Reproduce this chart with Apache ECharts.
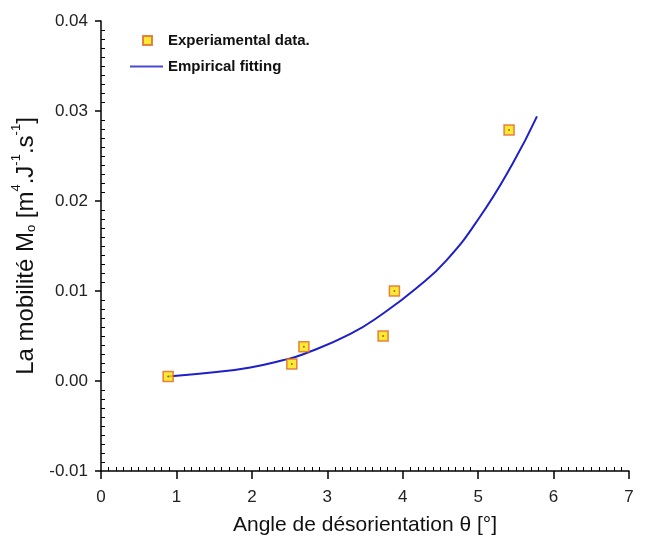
<!DOCTYPE html>
<html>
<head>
<meta charset="utf-8">
<script src="https://cdn.jsdelivr.net/npm/echarts@6/dist/echarts.min.js"></script>
<style>
  html, body { margin: 0; padding: 0; background: #fff; }
  #chart { width: 647px; height: 539px; }
</style>
</head>
<body>
<div id="chart"></div>
<script>
// Measured mobility vs. misorientation angle
const expAngle = [0.89, 2.53, 2.69, 3.74, 3.89, 5.41];
const expMobility = [0.0005, 0.0019, 0.0038, 0.0050, 0.0100, 0.0279];

// Points along the empirical (exponential) fit curve
const fitAngle = [0.89, 1.53, 1.98, 2.41, 2.69, 3.30, 3.74, 4.18, 4.58, 5.02, 5.46, 5.78];
const fitMobility = [0.0005, 0.0010, 0.0015, 0.0023, 0.0030, 0.0052, 0.0075, 0.0103, 0.0134, 0.0182, 0.0242, 0.0294];

// Axis ranges
const xRange = [0, 7];
const yRange = [-0.01, 0.04];
const xStep = 1;
const yStep = 0.01;

const expName = 'Experiamental data.';
const fitName = 'Empirical fitting';

const FONT = 'Liberation Sans, Arial, sans-serif';

const chart = echarts.init(document.getElementById('chart'), null, { renderer: 'canvas' });

const expData = expAngle.map((x, i) => [x, expMobility[i]]);
const fitData = fitAngle.map((x, i) => [x, fitMobility[i]]);

const axisLabelStyle = { color: '#222', fontSize: 17, fontFamily: FONT };
const legendText = { fontFamily: FONT, fontWeight: 'bold', fontSize: 15, color: '#111' };

// Secondary axes only carry the inward-pointing minor ticks
function minorAxis(range, step, pos) {
  return {
    type: 'value',
    position: pos,
    min: range[0], max: range[1], interval: step,
    axisLine: { show: false, onZero: false },
    axisTick: { show: false, inside: true },
    axisLabel: { show: false },
    minorTick: { show: true, splitNumber: 10, length: 4, lineStyle: { color: '#000', width: 1 } },
    splitLine: { show: false }
  };
}

const option = {
  backgroundColor: '#fff',
  animation: false,
  grid: { left: 101, right: 18, top: 21, bottom: 68, containLabel: false, outerBoundsMode: 'none' },
  legend: [
    {
      left: 142,
      top: 33,
      padding: 0,
      itemWidth: 9,
      itemHeight: 9,
      textStyle: Object.assign({ padding: [0, 0, 0, 11] }, legendText),
      data: [{ name: expName, icon: 'rect' }]
    },
    {
      left: 130,
      top: 59,
      padding: 0,
      itemWidth: 33,
      itemHeight: 2,
      textStyle: legendText,
      itemStyle: { color: '#4a4ad0' },
      data: [{ name: fitName, icon: 'rect' }]
    }
  ],
  xAxis: [
    {
      type: 'value',
      position: 'bottom',
      min: xRange[0], max: xRange[1], interval: xStep,
      name: 'Angle de désorientation θ [°]',
      nameLocation: 'middle',
      nameGap: 44,
      nameTextStyle: { fontFamily: FONT, fontSize: 21, color: '#111' },
      axisLine: { show: true, onZero: false, lineStyle: { color: '#000', width: 1.5 } },
      axisTick: { show: true, length: 8, lineStyle: { color: '#000', width: 1.5 } },
      axisLabel: Object.assign({ margin: 18 }, axisLabelStyle),
      splitLine: { show: false }
    },
    minorAxis(xRange, xStep, 'bottom')
  ],
  yAxis: [
    {
      type: 'value',
      position: 'left',
      min: yRange[0], max: yRange[1], interval: yStep,
      name: '{n|La mobilité M}{sub|o}{n| [m}{sup|4}{n|.J}{sup|-1}{n|.s}{sup|-1}{n|]}',
      nameLocation: 'middle',
      nameGap: 60,
      nameTextStyle: {
        fontFamily: FONT, color: '#111',
        rich: {
          n: { fontFamily: FONT, fontSize: 24, color: '#111', lineHeight: 28, verticalAlign: 'bottom' },
          sup: { fontFamily: FONT, fontSize: 13, color: '#111', lineHeight: 28, verticalAlign: 'top' },
          sub: { fontFamily: FONT, fontSize: 13, color: '#111', lineHeight: 24, verticalAlign: 'bottom' }
        }
      },
      axisLine: { show: true, onZero: false, lineStyle: { color: '#000', width: 1.5 } },
      axisTick: { show: true, length: 6, lineStyle: { color: '#000', width: 1.5 } },
      axisLabel: Object.assign({ margin: 13, formatter: v => v.toFixed(2) }, axisLabelStyle),
      splitLine: { show: false }
    },
    minorAxis(yRange, yStep, 'left')
  ],
  series: [
    {
      name: fitName,
      type: 'line',
      data: fitData,
      smooth: 0.5,
      showSymbol: false,
      symbol: 'none',
      lineStyle: { color: '#1f1fc8', width: 2 },
      itemStyle: { color: '#3b3bc8' },
      z: 2
    },
    {
      name: expName,
      type: 'scatter',
      data: expData,
      symbol: 'rect',
      symbolSize: 10,
      itemStyle: { color: '#ffe400', borderColor: '#e0642a', borderWidth: 1.5 },
      z: 3
    },
    {
      name: 'centre',
      type: 'scatter',
      data: expData,
      symbol: 'circle',
      symbolSize: 2,
      itemStyle: { color: '#6a5a20' },
      silent: true,
      z: 4
    }
  ]
};

chart.setOption(option);
</script>
</body>
</html>
